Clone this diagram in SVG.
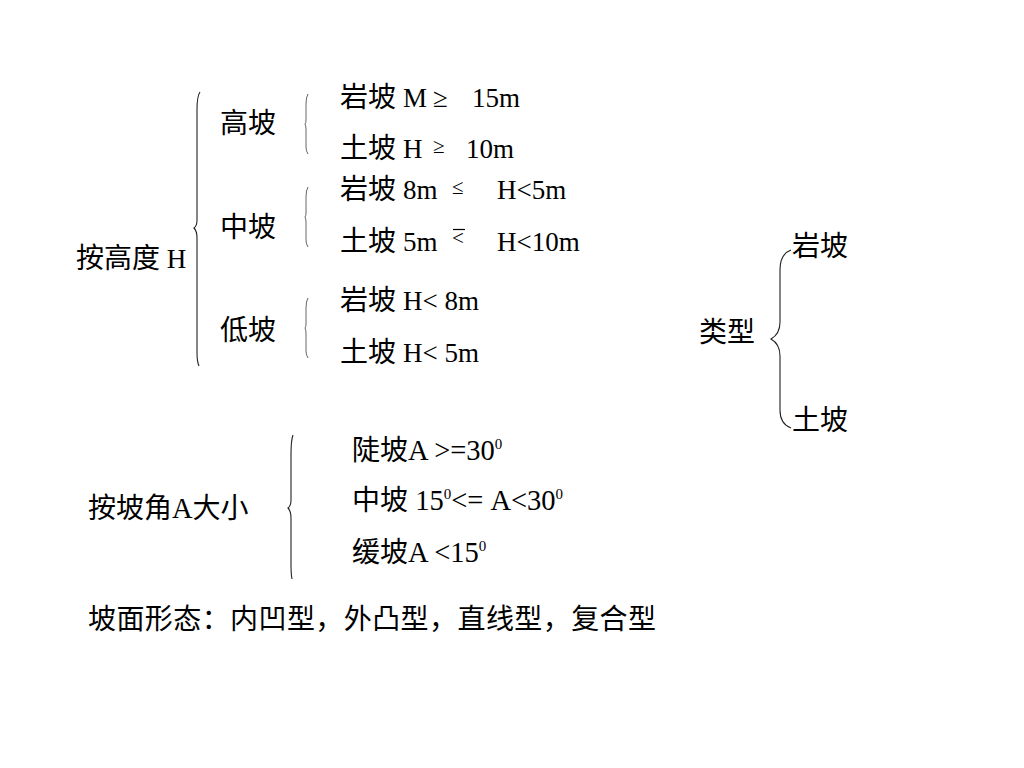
<svg xmlns="http://www.w3.org/2000/svg" width="1024" height="768" viewBox="0 0 1024 768">
<style>
.c{font-family:"Noto Sans CJK SC","Noto Sans CJK JP",sans-serif;font-size:28px;fill:#000}
.l{font-family:"Liberation Serif",serif;font-size:27px}
.la{font-family:"Liberation Serif",serif;font-size:28.5px}
.s{font-family:"Liberation Serif",serif;font-size:21px}
.p{font-family:"Liberation Serif",serif;font-size:15px}
.b{fill:none;stroke:#222;stroke-width:1.1}
.t{fill:none;stroke:#555;stroke-width:0.9}
</style>
<rect width="1024" height="768" fill="#fff"/>
<g id="connectors">
<path class="b" d="M200,92 Q197,96 197,110 L197,220 Q197,226 194,228 Q197,231 197,238 L197,352 Q197,362 199,366"/>
<path class="t" d="M308,94 Q306,97 306,104 L306,120 Q306,123 305,124 Q306,126 306,129 L306,147 Q306,151 308,154"/>
<path class="t" d="M308,187 Q306,190 306,197 L306,213 Q306,216 305,217 Q306,219 306,222 L306,240 Q306,244 308,247"/>
<path class="t" d="M308,298 Q306,301 306,308 L306,324 Q306,327 305,328 Q306,330 306,333 L306,351 Q306,355 308,358"/>
<path class="b" d="M791,250 Q780,254 780,270 L780,322 Q780,334 771,339 Q780,344 780,356 L780,410 Q780,424 791,428"/>
<path class="b" d="M293,435 Q291,440 291,455 L291,500 Q291,506 288,508 Q291,511 291,518 L291,565 Q291,574 292,579"/>
</g>
<g id="n-height"><text class="c" x="76" y="268">按高度<tspan class="l"> H</tspan></text></g>
<g id="n-high"><text class="c" x="220" y="133">高坡</text></g>
<g id="n-mid"><text class="c" x="220" y="237">中坡</text></g>
<g id="n-low"><text class="c" x="220" y="340">低坡</text></g>
<g id="n-h1"><text class="c" x="340" y="107">岩坡<tspan class="l" x="403">M</tspan><tspan class="l" x="433">≥</tspan><tspan class="l" x="472">15m</tspan></text></g>
<g id="n-h2"><text class="c" x="340" y="158">土坡<tspan class="l" x="403">H</tspan><tspan class="s" x="433" y="153">≥</tspan><tspan class="l" x="466" y="158">10m</tspan></text></g>
<g id="n-m1"><text class="c" x="340" y="199">岩坡<tspan class="l" x="403">8m</tspan><tspan class="s" x="452" y="194">≤</tspan><tspan class="l" x="497" y="199">H&lt;5m</tspan></text></g>
<g id="n-m2"><text class="c" x="340" y="251">土坡<tspan class="l" x="403">5m</tspan><tspan class="s" x="452" y="245">&lt;</tspan><tspan class="l" x="497" y="251">H&lt;10m</tspan></text><line x1="453" y1="229.5" x2="465" y2="229.5" stroke="#000" stroke-width="1.2"/></g>
<g id="n-l1"><text class="c" x="340" y="310">岩坡<tspan class="l" x="403">H&lt; 8m</tspan></text></g>
<g id="n-l2"><text class="c" x="340" y="362">土坡<tspan class="l" x="403">H&lt; 5m</tspan></text></g>
<g id="n-type"><text class="c" x="699" y="342">类型</text></g>
<g id="n-rock"><text class="c" x="792" y="256">岩坡</text></g>
<g id="n-soil"><text class="c" x="792" y="430">土坡</text></g>
<g id="n-angle"><text class="c" x="88" y="518">按坡角<tspan class="la">A</tspan>大小</text></g>
<g id="n-a1"><text class="c" x="352" y="460">陡坡<tspan class="la">A &gt;=30</tspan><tspan class="p" dy="-11">0</tspan></text></g>
<g id="n-a2"><text class="c" x="352" y="510">中坡<tspan class="la"> 15</tspan><tspan class="p" dy="-11">0</tspan><tspan class="la" dy="11">&lt;= A&lt;30</tspan><tspan class="p" dy="-11">0</tspan></text></g>
<g id="n-a3"><text class="c" x="352" y="562">缓坡<tspan class="la">A &lt;15</tspan><tspan class="p" dy="-11">0</tspan></text></g>
<g id="n-form"><text class="c" x="88" y="629" textLength="568">坡面形态：内凹型，外凸型，直线型，复合型</text></g>
</svg>
